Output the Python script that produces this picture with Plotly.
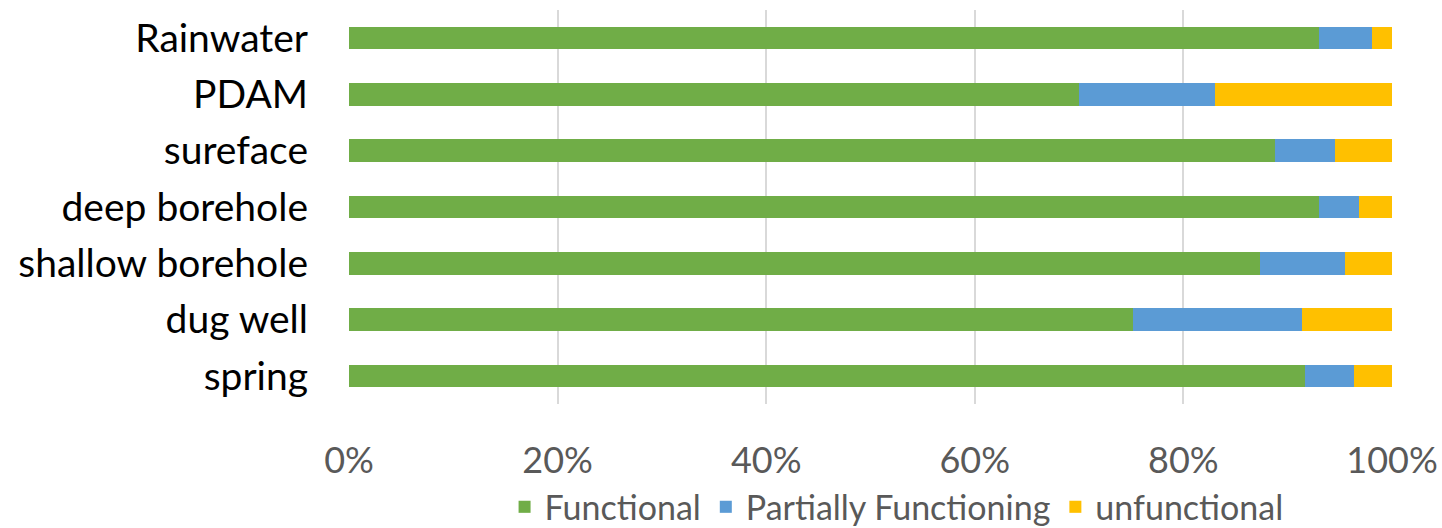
import plotly.graph_objects as go

categories = ["spring", "dug well", "shallow borehole", "deep borehole", "sureface", "PDAM", "Rainwater"]
functional = [91.7, 75.2, 87.3, 93.0, 88.8, 70.0, 93.0]
partially = [4.7, 16.2, 8.2, 3.8, 5.7, 13.0, 5.1]
unfunctional = [3.6, 8.6, 4.5, 3.2, 5.5, 17.0, 1.9]
tick_vals = [0, 20, 40, 60, 80, 100]
tick_text = ["0%", "20%", "40%", "60%", "80%", "100%"]

FONT = "Lato, 'Open Sans', sans-serif"

fig = go.Figure()
for name, vals, col in [("Functional", functional, "#70AD47"),
                        ("Partially Functioning", partially, "#5B9BD5"),
                        ("unfunctional", unfunctional, "#FFC000")]:
    fig.add_trace(go.Bar(y=categories, x=vals, name=name, orientation="h",
                         marker=dict(color=col, line=dict(width=0)), width=0.4))

fig.update_layout(
    barmode="stack",
    width=1442, height=528,
    margin=dict(l=349, r=50, t=10, b=124, autoexpand=False),
    plot_bgcolor="white", paper_bgcolor="white",
    font=dict(family=FONT, size=36, color="#595959"),
    xaxis=dict(range=[0, 100], tickvals=tick_vals, ticktext=tick_text,
               showgrid=True, gridcolor="#D9D9D9", gridwidth=2, zeroline=False,
               showline=False, ticks="", ticklabelstandoff=32, automargin=False,
               tickfont=dict(size=36, color="#595959", family=FONT)),
    yaxis=dict(categoryorder="array", categoryarray=categories,
               showgrid=False, zeroline=False, showline=False, ticks="",
               ticklabelstandoff=40, automargin=False,
               tickfont=dict(size=39, color="#000000", family=FONT)),
    legend=dict(orientation="h", x=0.525, xanchor="center", y=-0.262, yanchor="middle",
                bgcolor="rgba(0,0,0,0)",
                font=dict(size=34, color="#595959", family=FONT),
                traceorder="normal", itemwidth=30, tracegroupgap=0),
    bargap=0.6,
)

fig.write_html("out.html")
